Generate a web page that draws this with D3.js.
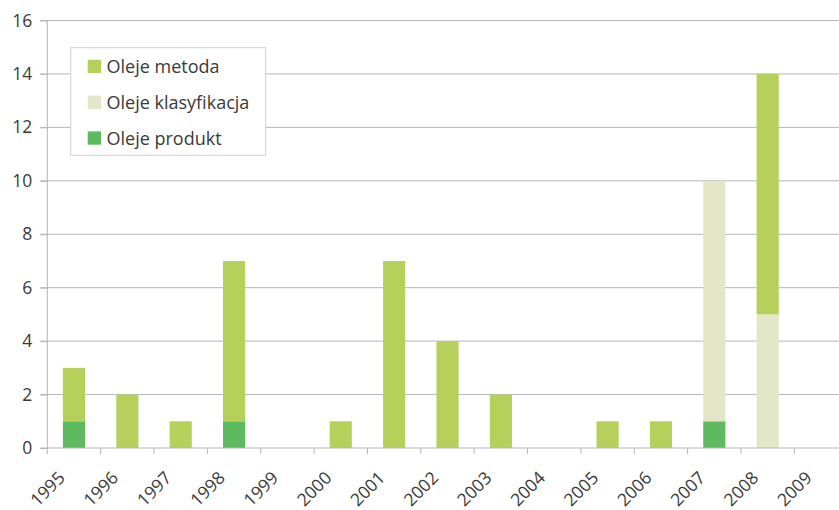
<!DOCTYPE html>
<html><head><meta charset="utf-8">
<script src="https://cdn.jsdelivr.net/npm/d3@7"></script>
<style>body{margin:0;background:#fff;overflow:hidden}</style>
</head><body>
<svg id="c" width="839" height="510"></svg>
<script>
const years = ["1995","1996","1997","1998","1999","2000","2001","2002","2003","2004","2005","2006","2007","2008","2009"];
const olejeProdukt      = [1,0,0,1,0,0,0,0,0,0,0,0,1,0,0];
const olejeKlasyfikacja = [0,0,0,0,0,0,0,0,0,0,0,0,9,5,0];
const olejeMetoda       = [2,2,1,6,0,1,7,4,2,0,1,1,0,9,0];
const seriesNames = ["Oleje produkt","Oleje klasyfikacja","Oleje metoda"];
const seriesColors = ["#5dba5f","#e3e7c8","#b6d15b"];
const yTicks = [0,2,4,6,8,10,12,14,16];

(function(){
const font = "'Open Sans', sans-serif";
const fs = 17.5;
const textColor = "#3a3a3a";
const svg = d3.select("#c");
const pLeft = 47.3, pTop = 20.5, pBottom = 448, step = 53.36;
const x = d3.scaleBand().domain(years).range([pLeft, pLeft + step*years.length]).paddingInner(0.585).paddingOuter(0.2925);
const y = d3.scaleLinear().domain([0,16]).range([pBottom, pTop]);

const table = years.map((yr,i)=>({year:yr, "Oleje produkt":olejeProdukt[i], "Oleje klasyfikacja":olejeKlasyfikacja[i], "Oleje metoda":olejeMetoda[i]}));
const stacked = d3.stack().keys(seriesNames)(table);

// gridlines
svg.append("g").selectAll("line").data(yTicks.filter(d=>d>0)).join("line")
  .attr("x1", pLeft-7).attr("x2", 839).attr("y1", d=>y(d)).attr("y2", d=>y(d))
  .attr("stroke","#b5b5b5").attr("stroke-width",1);

// bars
svg.append("g").selectAll("g").data(stacked).join("g")
  .attr("fill",(d,i)=>seriesColors[i])
  .selectAll("rect").data(d=>d.filter(p=>p[1]-p[0]>0)).join("rect")
  .attr("x", d=>x(d.data.year)).attr("width", x.bandwidth())
  .attr("y", d=>y(d[1])).attr("height", d=>y(d[0])-y(d[1]));

// y axis
const yAxis = svg.append("g").attr("transform",`translate(${pLeft},0)`)
  .call(d3.axisLeft(y).tickValues(yTicks).tickSize(7).tickPadding(8));
yAxis.select(".domain").attr("stroke","#b5b5b5").attr("d",`M0,${pTop}V${pBottom}`);
yAxis.selectAll(".tick line").attr("stroke","#b5b5b5");
yAxis.selectAll("text").attr("font-family",font).attr("font-size",fs).attr("fill",textColor);

// x axis line and ticks
svg.append("line").attr("x1",pLeft-7).attr("x2",839).attr("y1",pBottom).attr("y2",pBottom).attr("stroke","#b5b5b5");
svg.append("g").selectAll("line").data(years).join("line")
  .attr("x1",d=>x(d)-x.step()*x.paddingInner()/2).attr("x2",d=>x(d)-x.step()*x.paddingInner()/2)
  .attr("y1",pBottom).attr("y2",pBottom+6).attr("stroke","#b5b5b5");
svg.append("g").selectAll("text").data(years).join("text")
  .attr("transform",d=>`translate(${x(d)+x.bandwidth()/2-8},${pBottom+31}) rotate(-45)`)
  .attr("text-anchor","end").attr("font-family",font).attr("font-size",fs).attr("fill",textColor)
  .text(d=>d);

// legend
const lg = svg.append("g");
lg.append("rect").attr("x",70.7).attr("y",47.7).attr("width",195).attr("height",107.6)
  .attr("fill","#fff").attr("stroke","#cfcfcf");
const legendOrder = [2,1,0];
legendOrder.forEach((si,k)=>{
  const cy = 66.5 + k*35.8;
  lg.append("rect").attr("x",87.7).attr("y",cy-6.7).attr("width",13.3).attr("height",13.3).attr("fill",seriesColors[si]);
  lg.append("text").attr("x",106.5).attr("y",cy+6.5).attr("font-family",font).attr("font-size",18).attr("fill",textColor).text(seriesNames[si]);
});
})();
</script>
</body></html>
